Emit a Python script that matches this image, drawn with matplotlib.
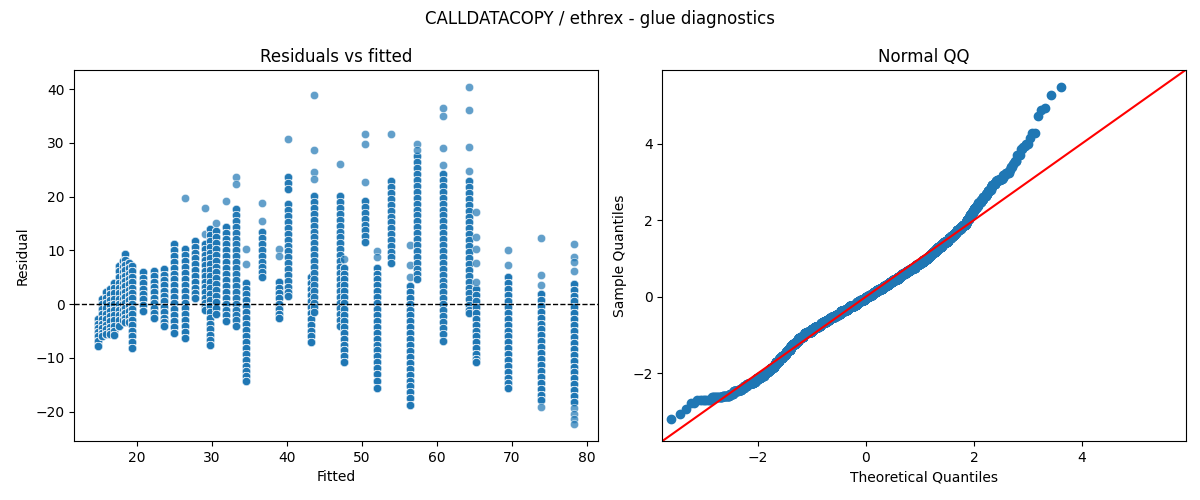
import numpy as np
import matplotlib
matplotlib.use("Agg")
import matplotlib.pyplot as plt
import seaborn as sns
from statistics import NormalDist

# fitted value of each vertical stripe in the residual plot
fitted_cols = [14.84, 15.3, 15.9, 16.4, 17.0, 17.6, 18.1, 18.4, 19.0, 19.4,
               20.8, 22.3, 23.6, 25.0, 26.4, 27.8, 29.1, 29.8, 30.6, 31.9,
               33.2, 34.6, 36.7, 39.0, 40.2, 43.2, 43.6, 47.1, 47.6, 50.4,
               52.1, 53.9, 56.4, 57.4, 60.8, 64.3, 65.2, 69.5, 73.9, 78.3]

# bulk of each stripe (heavily overplotted), read top to bottom
resid_dense = [
    [-2.8, -3.6, -4.4, -5.2, -6.0, -6.8, -7.7],
    [0.9, 0.0, -0.9, -1.8, -2.7, -3.6, -4.5, -5.3, -5.9],
    [2.2, 1.2, 0.2, -0.8, -1.8, -2.8, -3.8, -4.7, -5.6],
    [2.8, 1.8, 0.8, -0.2, -1.2, -2.2, -3.2, -4.2, -5.0, -5.6],
    [4.0, 3.0, 2.0, 1.0, 0.0, -1.0, -2.0, -3.0, -4.0, -5.0, -5.8],
    [7.1, 6.1, 5.0, 4.0, 3.0, 2.0, 1.0, 0.0, -1.0, -2.0, -3.0, -4.0],
    [8.0, 7.0, 6.0, 5.0, 4.0, 3.0, 2.0, 1.0, 0.0, -1.0, -2.0, -3.0],
    [9.3, 8.3, 7.3, 6.3, 5.3, 4.3, 3.3, 2.3, 1.3, 0.3, -0.7, -1.7, -2.6, -3.4],
    [7.7, 6.7, 5.7, 4.7, 3.7, 2.7, 1.7, 0.7, -0.3, -1.3, -2.3, -3.4],
    [7.1, 6.1, 5.1, 4.1, 3.1, 2.1, 1.1, 0.1, -0.9, -1.9, -2.9, -3.9, -4.9, -5.9, -7.0, -8.1],
    [5.9, 4.9, 3.9, 2.9, 1.9, 0.9, -0.1, -1.2],
    [6.2, 5.2, 4.2, 3.2, 2.2, 1.2, 0.2, -0.8, -1.7, -2.5],
    [6.5, 5.5, 4.5, 3.5, 2.5, 1.5, 0.5, -0.5, -1.5, -2.5, -3.3, -4.0],
    [11.2, 10.1, 9.0, 7.9, 6.8, 5.7, 4.6, 3.5, 2.4, 1.3, 0.2, -0.9, -2.0, -3.1, -4.2, -5.3],
    [10.2, 9.1, 8.0, 6.9, 5.8, 4.7, 3.6, 2.5, 1.4, 0.3, -0.8, -1.9, -3.0, -4.1, -5.2, -6.2],
    [11.8, 10.7, 9.6, 8.5, 7.4, 6.3, 5.2, 4.1, 3.0, 2.0, 1.2],
    [11.2, 10.2, 9.2, 8.2, 7.2, 6.2, 5.2, 4.2, 3.2, 2.2, 1.2, 0.2, -0.6, -1.0],
    [14.0, 12.9, 11.8, 10.7, 9.6, 8.5, 7.4, 6.3, 5.2, 4.1, 3.0, 1.9, 0.8, -0.3, -1.4,
     -2.5, -3.6, -4.7, -5.8, -6.7, -7.5],
    [13.6, 12.5, 11.4, 10.3, 9.2, 8.1, 7.0, 5.9, 4.8, 3.7, 2.6, 1.5, 0.4, -0.7, -1.9],
    [14.4, 13.3, 12.2, 11.1, 10.0, 8.9, 7.8, 6.7, 5.6, 4.5, 3.4, 2.3, 1.2, 0.1, -1.0, -2.1, -3.1],
    [17.7, 16.6, 15.5, 14.4, 13.3, 12.2, 11.1, 10.0, 8.9, 7.8, 6.7, 5.6, 4.5, 3.4, 2.3,
     1.2, 0.1, -1.0, -2.0, -3.0, -4.0],
    [4.0, 2.9, 1.8, 0.7, -0.4, -1.5, -2.6, -3.7, -4.8, -5.9, -7.0, -8.1, -9.2, -10.3,
     -11.4, -12.4, -13.3, -14.2],
    [13.4, 12.3, 11.2, 10.1, 9.0, 7.9, 6.9, 5.9, 5.0],
    [4.1, 3.1, 2.1, 1.1, 0.1, -0.9, -1.8, -2.5],
    [23.7, 22.6, 21.5, 18.6, 17.5, 16.4, 15.3, 14.2, 13.1, 12.0, 10.9, 9.8, 8.7, 7.6,
     6.5, 5.4, 4.3, 3.2, 2.3, 1.5],
    [5.0, 3.9, 2.8, 1.7, 0.6, -0.5, -1.6, -2.7, -3.8, -4.9, -6.0, -7.1],
    [20.1, 19.0, 17.9, 16.8, 15.7, 14.6, 13.5, 12.4, 11.3, 10.2, 9.1, 8.0, 6.9, 5.8,
     4.7, 3.6, 2.5, 1.4, 0.3, -0.6, -1.5],
    [20.1, 19.0, 17.9, 16.8, 15.7, 14.6, 13.5, 12.4, 11.3, 10.2, 9.1, 8.0, 6.9, 5.8,
     4.7, 3.6, 2.5, 1.4, 0.3, -0.8, -1.9, -3.0, -4.0],
    [6.8, 5.7, 4.6, 3.5, 2.4, 1.3, 0.2, -0.9, -2.0, -3.1, -4.2, -5.3, -6.4, -7.5, -8.6,
     -9.7, -10.8],
    [19.2, 18.1, 17.0, 15.9, 14.8, 13.7, 12.6, 11.5],
    [6.8, 5.7, 4.6, 3.5, 2.4, 1.3, 0.2, -0.9, -2.0, -3.1, -4.2, -5.3, -6.4, -7.5, -8.6,
     -9.7, -10.8, -11.9, -13.0, -14.2, -15.5],
    [22.9, 21.8, 20.7, 19.6, 18.5, 17.4, 16.3, 15.2, 14.1, 13.0, 11.9, 10.8, 9.7, 8.7, 7.7],
    [3.4, 2.3, 1.2, 0.1, -1.0, -2.1, -3.2, -4.3, -5.4, -6.5, -7.6, -8.7, -9.8, -10.9,
     -12.0, -13.1, -14.2, -15.3, -16.4, -17.5, -18.7],
    [27.5, 26.4, 25.3, 24.2, 23.1, 22.0, 20.9, 19.8, 18.7, 17.6, 16.5, 15.4,
     14.3, 13.2, 12.1, 11.0, 9.9, 8.8, 7.7, 6.6, 5.6, 4.6],
    [24.2, 23.1, 22.0, 20.9, 19.8, 18.7, 17.6, 16.5, 15.4, 14.3, 13.2, 12.1, 11.0, 9.9,
     8.8, 7.7, 6.6, 5.5, 4.4, 3.3, 2.2, 1.1, 0.0, -1.1, -2.2, -3.3, -4.4, -5.5, -6.8],
    [22.9, 21.8, 20.7, 19.6, 18.5, 17.4, 16.3, 15.2, 14.1, 13.0, 11.9, 10.8, 9.7, 8.6,
     7.5, 6.4, 5.3, 4.2, 3.1, 2.0, 0.9, -0.2, -1.0, -1.7],
    [2.8, 1.7, 0.6, -0.5, -1.6, -2.7, -3.8, -4.9, -6.0, -7.1, -8.2, -9.3, -10.1, -10.8],
    [5.0, 3.9, 2.8, 1.7, 0.6, -0.5, -1.6, -2.7, -3.8, -4.9, -6.0, -7.1, -8.2, -9.3,
     -10.4, -11.5, -12.6, -13.7, -14.6, -15.5],
    [1.9, 0.8, -0.3, -1.4, -2.5, -3.6, -4.7, -5.8, -6.9, -8.0, -9.1, -10.2, -11.3, -12.4,
     -13.5, -14.6, -15.7, -16.8, -17.9],
    [3.8, 2.7, 1.6, 0.5, -0.6, -1.7, -2.8, -3.9, -5.0, -6.1, -7.2, -8.3, -9.4, -10.5,
     -11.6, -12.7, -13.8, -14.9, -16.0, -17.1, -18.2],
]

# isolated points outside the bulk of each stripe (incl. the loose stripe tips)
resid_sparse = [
    [], [], [], [], [], [], [], [], [], [],
    [], [], [], [], [19.8], [], [17.8, 13.0], [], [15.1], [19.1],
    [23.7, 22.4], [10.2, 7.4], [18.9, 15.4], [10.2, 9.0], [30.7], [],
    [38.8, 28.6, 24.5, 23.3], [26.0], [8.4], [31.7, 29.7, 22.8],
    [9.9, 8.7], [31.7], [11.0, 7.2, 5.1], [29.7, 28.6], [36.5, 35.0, 29.1, 25.9],
    [40.4, 36.1, 29.2, 24.8], [17.2, 12.4, 10.2, 7.6, 4.2], [10.0, 7.2],
    [12.3, 5.5, 3.5, -19.2], [11.1, 8.7, 7.9, 6.1, -19.3, -20.4, -21.4, -22.3],
]

# overlapping observations behind each dense value, per stripe; estimated so the
# QQ panel spans about +-3.6 on its theoretical axis (roughly 7000 points)
stack_counts = [20, 20, 20, 20, 20, 20, 20, 20, 20, 20,
                20, 20, 20, 14, 14, 14, 14, 14, 14, 14,
                3, 9, 3, 9, 3, 9, 3, 3, 9, 3,
                9, 3, 9, 3, 3, 3, 12, 12, 12, 12]

fitted, resid = [], []
for x, dense, sparse, k in zip(fitted_cols, resid_dense, resid_sparse, stack_counts):
    for r in dense:
        fitted += [x] * k
        resid += [r] * k
    for r in sparse:
        fitted.append(x)
        resid.append(r)
fitted = np.array(fitted)
resid = np.array(resid)

fig, (ax1, ax2) = plt.subplots(1, 2, figsize=(12, 5), dpi=100)
fig.subplots_adjust(left=0.062, right=0.988, top=0.86, bottom=0.118, wspace=0.124)
fig.suptitle("CALLDATACOPY / ethrex - glue diagnostics")

# residuals vs fitted
sns.scatterplot(x=fitted, y=resid, ax=ax1, alpha=0.7)
ax1.axhline(0, color="black", linestyle="--", linewidth=1)
ax1.set_title("Residuals vs fitted")
ax1.set_xlabel("Fitted")
ax1.set_ylabel("Residual")

# normal QQ of the standardised residuals
sample = np.sort((resid - resid.mean()) / resid.std(ddof=1))
n = len(sample)
theo = np.array([NormalDist().inv_cdf(i / (n + 1)) for i in range(1, n + 1)])
ax2.plot(theo, sample, "o", color="C0", linestyle="none")
lims = [-3.77, 5.92]
ax2.plot(lims, lims, "r-")
ax2.set_xlim(lims)
ax2.set_ylim(lims)
ax2.set_title("Normal QQ")
ax2.set_xlabel("Theoretical Quantiles")
ax2.set_ylabel("Sample Quantiles")

plt.savefig("out.png", dpi=100)
